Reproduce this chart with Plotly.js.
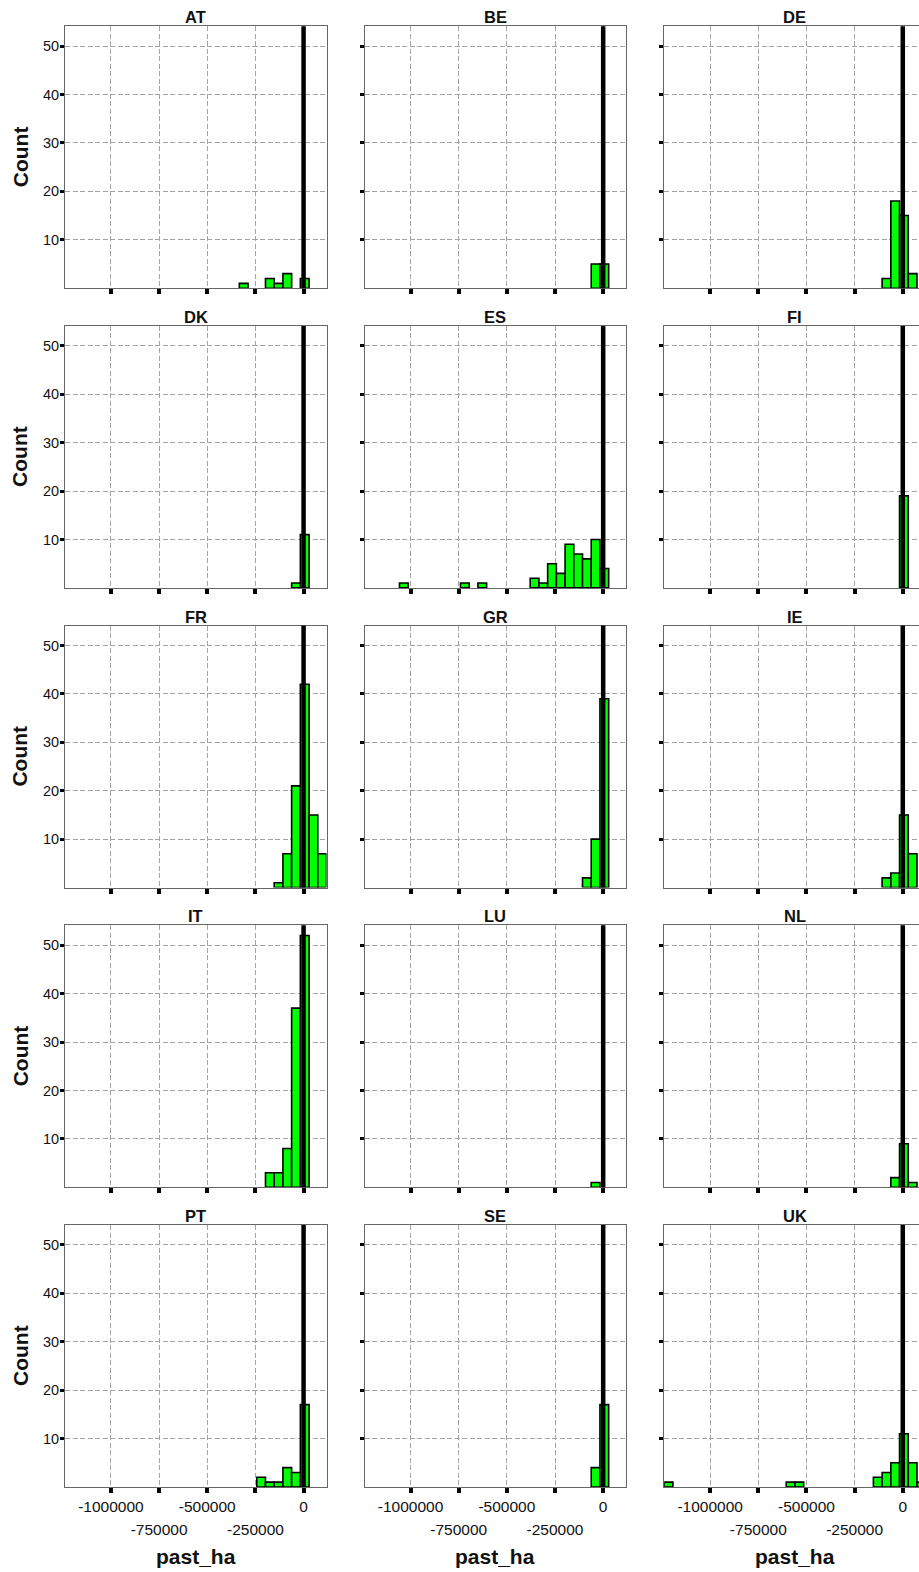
<!DOCTYPE html>
<html>
<head>
<meta charset="utf-8">
<script src="https://cdn.plot.ly/plotly-3.0.1.min.js"></script>
<style>
  html, body { margin: 0; padding: 0; background: #fff; overflow: hidden; }
  #chart { width: 930px; height: 1572px; }
</style>
</head>
<body>
<div id="chart"></div>
<script>
// Shared histogram bin grid (30 bins across all countries)
const binStart = -1238500;
const binWidth = 45250;
const binCount = 30;

// Tick values on the x axis (labels alternate between two rows)
const xTicks = [-1000000, -750000, -500000, -250000, 0];
const xTicksUpper = [-1000000, -500000, 0];
const xTicksLower = [-750000, -250000];
const yTicks = [10, 20, 30, 40, 50];

// Per-country histogram: occupied bin indices and their counts
const atBins = [20, 23, 24, 25, 27];            const atCounts = [1, 2, 1, 3, 2];
const beBins = [26, 27];                        const beCounts = [5, 5];
const deBins = [25, 26, 27, 28];                const deCounts = [2, 18, 15, 3];
const dkBins = [26, 27];                        const dkCounts = [1, 11];
const esBins = [4, 11, 13, 19, 20, 21, 22, 23, 24, 25, 26, 27];
const esCounts = [1, 1, 1, 2, 1, 5, 3, 9, 7, 6, 10, 4];
const fiBins = [27];                            const fiCounts = [19];
const frBins = [24, 25, 26, 27, 28, 29];        const frCounts = [1, 7, 21, 42, 15, 7];
const grBins = [25, 26, 27];                    const grCounts = [2, 10, 39];
const ieBins = [25, 26, 27, 28];                const ieCounts = [2, 3, 15, 7];
const itBins = [23, 24, 25, 26, 27];            const itCounts = [3, 3, 8, 37, 52];
const luBins = [26];                            const luCounts = [1];
const nlBins = [26, 27, 28];                    const nlCounts = [2, 9, 1];
const ptBins = [22, 23, 24, 25, 26, 27];        const ptCounts = [2, 1, 1, 4, 3, 17];
const seBins = [26, 27];                        const seCounts = [4, 17];
const ukBins = [0, 14, 15, 24, 25, 26, 27, 28, 29];
const ukCounts = [1, 1, 1, 2, 3, 5, 11, 5, 1];

const panels = [
  ['AT', atBins, atCounts], ['BE', beBins, beCounts], ['DE', deBins, deCounts],
  ['DK', dkBins, dkCounts], ['ES', esBins, esCounts], ['FI', fiBins, fiCounts],
  ['FR', frBins, frCounts], ['GR', grBins, grCounts], ['IE', ieBins, ieCounts],
  ['IT', itBins, itCounts], ['LU', luBins, luCounts], ['NL', nlBins, nlCounts],
  ['PT', ptBins, ptCounts], ['SE', seBins, seCounts], ['UK', ukBins, ukCounts]
];

// Page geometry (pixels)
const W = 930, H = 1572;
const nCols = 3, nRows = 5;
const colLeft = [65, 364.6, 664.2];
const panelW = 261.5;
const rowTop = [26.2, 325.9, 625.6, 925.3, 1225];
const panelH = 262;

const FONT = 'Liberation Sans, Arial, Helvetica, sans-serif';
const xRange = [binStart, binStart + binCount * binWidth];
const yRange = [0, 54.1];
const GRID = {showgrid: true, gridcolor: '#a3a3a3', gridwidth: 1, griddash: '5px,2.5px'};

const data = [];
const layout = {
  width: W, height: H,
  margin: {l: 0, r: 0, t: 0, b: 0},
  paper_bgcolor: '#ffffff',
  plot_bgcolor: '#ffffff',
  showlegend: false,
  font: {family: FONT, color: '#111111'},
  shapes: [],
  annotations: []
};

panels.forEach(function (p, i) {
  const n = i + 1;
  const sfx = n === 1 ? '' : String(n);
  const row = Math.floor(i / nCols), col = i % nCols;
  const bins = p[1], counts = p[2];

  data.push({
    type: 'bar',
    x: bins.map(function (b) { return binStart + (b + 0.5) * binWidth; }),
    y: counts,
    width: binWidth,
    marker: {color: '#00ff00', line: {color: '#000000', width: 1.6}},
    xaxis: 'x' + sfx, yaxis: 'y' + sfx,
    hoverinfo: 'skip'
  });

  const x0 = colLeft[col] / W, x1 = (colLeft[col] + panelW) / W;
  const y1 = 1 - rowTop[row] / H, y0 = 1 - (rowTop[row] + panelH) / H;
  const bottomRow = row === nRows - 1;
  const leftCol = col === 0;

  layout['xaxis' + sfx] = Object.assign({
    domain: [x0, Math.min(x1, 1)],
    anchor: 'y' + sfx,
    range: xRange,
    tickmode: 'array',
    tickvals: xTicks,
    ticktext: xTicks.map(function (v) {
      return (bottomRow && xTicksUpper.indexOf(v) >= 0) ? String(v) : '';
    }),
    showticklabels: bottomRow,
    ticks: 'outside', ticklen: 5, tickwidth: 4, tickcolor: '#000000',
    tickfont: {size: 15.5, color: '#111111', family: FONT},
    zeroline: false,
    showline: true, mirror: true, linecolor: '#666666', linewidth: 1,
    fixedrange: true
  }, GRID);
  layout['yaxis' + sfx] = Object.assign({
    domain: [y0, y1],
    anchor: 'x' + sfx,
    range: yRange,
    tickmode: 'array',
    tickvals: yTicks,
    showticklabels: leftCol,
    ticks: 'outside', ticklen: 4, tickwidth: 3, tickcolor: '#000000',
    tickfont: {size: 14.5, color: '#111111', family: FONT},
    ticklabelstandoff: -2,
    zeroline: false,
    showline: true, mirror: true, linecolor: '#666666', linewidth: 1,
    fixedrange: true
  }, GRID);

  // Reference line at zero
  layout.shapes.push({
    type: 'line', layer: 'above',
    xref: 'x' + sfx, yref: 'y' + sfx + ' domain',
    x0: 0, x1: 0, y0: 0, y1: 1,
    line: {color: '#000000', width: 4.5}
  });

  // Facet strip label
  layout.annotations.push({
    text: '<b>' + p[0] + '</b>',
    xref: 'x' + sfx + ' domain', yref: 'y' + sfx + ' domain',
    x: 0.5, y: 1, xanchor: 'center', yanchor: 'middle', yshift: 9,
    showarrow: false,
    font: {size: 16.5, color: '#111111', family: FONT}
  });

  if (leftCol) {
    layout.annotations.push({
      text: '<b>Count</b>',
      xref: 'paper', yref: 'y' + sfx + ' domain',
      x: 20 / W, y: 0.5, xanchor: 'center', yanchor: 'middle',
      textangle: -90, showarrow: false,
      font: {size: 21, color: '#111111', family: FONT}
    });
  }

  if (bottomRow) {
    // Second row of staggered tick labels on an overlaid axis
    const ovN = 15 + col + 1;
    layout['xaxis' + ovN] = {
      overlaying: 'x' + sfx,
      anchor: 'y' + sfx,
      side: 'bottom',
      range: xRange,
      tickmode: 'array',
      tickvals: xTicksLower,
      ticktext: xTicksLower.map(String),
      ticks: '', showgrid: false, zeroline: false, showline: false,
      tickfont: {size: 15.5, color: '#111111', family: FONT},
      ticklabelstandoff: 31,
      fixedrange: true
    };
    data.push({
      type: 'scatter', mode: 'markers', x: [], y: [],
      xaxis: 'x' + ovN, yaxis: 'y' + sfx, hoverinfo: 'skip'
    });

    layout.annotations.push({
      text: '<b>past_ha</b>',
      xref: 'x' + sfx + ' domain', yref: 'paper',
      x: 0.5, y: 1 - 1556 / H, xanchor: 'center', yanchor: 'middle',
      showarrow: false,
      font: {size: 21, color: '#111111', family: FONT}
    });
  }
});

Plotly.newPlot('chart', data, layout, {displayModeBar: false, staticPlot: true});
</script>
</body>
</html>
